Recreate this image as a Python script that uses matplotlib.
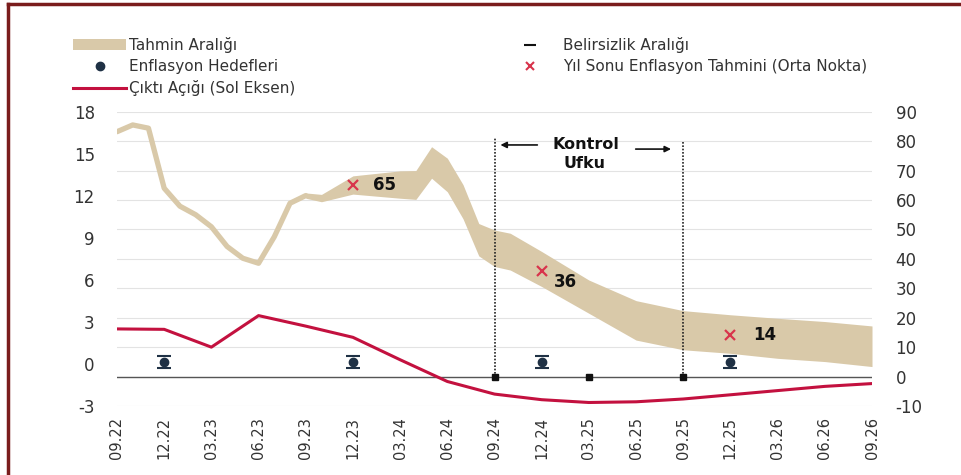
import numpy as np
import matplotlib.pyplot as plt
from matplotlib.patches import Patch
from matplotlib.lines import Line2D

plt.rcParams['font.family'] = ['DejaVu Sans']
plt.rcParams['axes.unicode_minus'] = False

# month index: 0 = 09.22 ... 48 = 09.26
tick_labels = ['09.22', '12.22', '03.23', '06.23', '09.23', '12.23', '03.24', '06.24',
               '09.24', '12.24', '03.25', '06.25', '09.25', '12.25', '03.26', '06.26', '09.26']
tick_months = list(range(0, 49, 3))

# realised inflation (right axis, %)
actual_months = list(range(0, 13))
actual = [83.2, 85.5, 84.4, 64.0, 57.9, 55.0, 50.9, 44.2, 40.2, 38.5, 47.5, 58.9, 61.5]

# forecast range (right axis, %)
band_months = [12, 13, 15, 18, 19, 20, 21, 22, 23, 24, 25, 27, 30, 33, 36, 39, 42, 45, 48]
band_low = [60.6, 59.4, 62.0, 60.6, 60.2, 67.4, 62.8, 53.6, 41.0, 37.4, 36.2, 30.6, 21.5,
            12.4, 9.1, 7.9, 6.2, 5.1, 3.4]
band_high = [62.4, 61.9, 68.2, 69.9, 70.0, 78.1, 74.2, 65.2, 52.0, 49.8, 48.7, 42.5, 32.8,
             25.8, 22.4, 21.0, 19.8, 18.7, 17.2]

# year-end mid-point forecasts
ye_months = [15, 27, 39]
ye_values = [65, 36, 14]
ye_text = ['65', '36', '14']

# inflation targets with uncertainty range
target_months = [3, 15, 27, 39]
target_values = [5, 5, 5, 5]
target_err = [2, 2, 2, 2]

# output gap (left axis)
gap_months = list(range(0, 49, 3))
gap = [2.5, 2.47, 1.2, 3.45, 2.7, 1.9, 0.3, -1.25, -2.15, -2.55, -2.75, -2.7, -2.5,
       -2.2, -1.9, -1.6, -1.4]

horizon_start, horizon_end = 24, 36
horizon_marks = [24, 30, 36]

tan = '#d9c9a9'
crimson = '#c3113f'
navy = '#1f3145'
xred = '#d8344c'
txt = '#333333'

fig = plt.figure(figsize=(9.61, 4.75), dpi=100)
ax = fig.add_axes([117/961, 1 - 406/475, (872 - 117)/961, (406 - 111.7)/475])
ax2 = ax.twinx()
ax.set_zorder(ax2.get_zorder() + 1)
ax.patch.set_visible(False)

# right axis: inflation
ax2.set_ylim(-10, 90)
ax2.set_yticks(range(-10, 91, 10))
ax2.grid(True, color='#e3e3e3', lw=0.8, zorder=0)
ax2.set_axisbelow(True)
ax2.fill_between(band_months, band_low, band_high, color=tan, lw=0, zorder=2)
ax2.plot(actual_months, actual, color=tan, lw=3.8, solid_capstyle='round', zorder=2)
ax2.axhline(0, color='#555555', lw=1, zorder=3)

ax2.errorbar(target_months, target_values, yerr=target_err, fmt='o', ms=6, color=navy,
             ecolor=navy, elinewidth=0, capsize=5, capthick=1.5, zorder=4)
ax2.plot(ye_months, ye_values, 'x', color=xred, ms=7, mew=1.6, zorder=5)
offsets = [(2.0, 0), (1.5, -4), (2.2, 0)]
for m, v, t, (dx, dy) in zip(ye_months, ye_values, ye_text, offsets):
    ax2.text(m + dx, v + dy, t, fontsize=12, fontweight='bold', color='#111111',
             va='center', ha='center', zorder=5)

ax2.vlines([horizon_start], 0, 81.5, colors='#222222', linestyles=(0, (1, 1)), lw=1.2, zorder=4)
ax2.vlines([horizon_end], 0, 79.8, colors='#222222', linestyles=(0, (1, 1)), lw=1.2, zorder=4)
ax2.plot(horizon_marks, [0] * len(horizon_marks), 's', color='#111111', ms=4, zorder=5)
ax2.text(29.8, 79.0, 'Kontrol', fontsize=11.5, fontweight='bold', color='#111111',
         ha='center', va='center', zorder=5)
ax2.text(29.7, 72.4, 'Ufku', fontsize=11.5, fontweight='bold', color='#111111',
         ha='center', va='center', zorder=5)
ax2.annotate('', xy=(24.2, 78.7), xytext=(26.9, 78.7),
             arrowprops=dict(arrowstyle='-|>', color='#111111', lw=1.2, mutation_scale=9))
ax2.annotate('', xy=(35.4, 77.3), xytext=(32.8, 77.3),
             arrowprops=dict(arrowstyle='-|>', color='#111111', lw=1.2, mutation_scale=9))

# left axis: output gap
ax.set_ylim(-3, 18)
ax.set_yticks(range(-3, 19, 3))
ax.plot(gap_months, gap, color=crimson, lw=2.2, zorder=6)

ax.set_xlim(0, 48)
ax.set_xticks(tick_months)
ax.set_xticklabels(tick_labels, rotation=90)
ax2.set_xticks(tick_months)

for a in (ax, ax2):
    for s in a.spines.values():
        s.set_visible(False)
    a.tick_params(length=0, colors=txt)
ax.tick_params(axis='y', labelsize=12, pad=16)
ax2.tick_params(axis='y', labelsize=12, pad=17)
ax.tick_params(axis='x', labelsize=10.5, pad=8)

# legends
h1 = [Patch(color=tan, lw=0),
      Line2D([], [], ls='none', marker='o', ms=6, color=navy),
      Line2D([], [], color=crimson, lw=2.2)]
l1 = ['Tahmin Aralığı', 'Enflasyon Hedefleri', 'Çıktı Açığı (Sol Eksen)']
h2 = [Line2D([], [], ls='none', marker='_', ms=8, mew=1.5, color='#111111'),
      Line2D([], [], ls='none', marker='x', ms=6, mew=1.5, color=xred)]
l2 = ['Belirsizlik Aralığı', 'Yıl Sonu Enflasyon Tahmini (Orta Nokta)']
common = dict(loc='upper left', frameon=False, fontsize=11, handlelength=3.5,
              borderpad=0, borderaxespad=0, labelspacing=0.4, labelcolor=txt)
fig.legend(h1, l1, bbox_to_anchor=(73/961, 1 - 37/475), handletextpad=0.15, **common)
fig.legend(h2, l2, bbox_to_anchor=(503/961, 1 - 37/475), handletextpad=0.4, **common)

# frame on top and left
fig.add_artist(Line2D([8/961, 1], [1 - 4/475, 1 - 4/475], transform=fig.transFigure,
                      color='#7a1c1c', lw=2.5))
fig.add_artist(Line2D([8/961, 8/961], [0, 1 - 4/475], transform=fig.transFigure,
                      color='#7a1c1c', lw=2.5))

fig.savefig('out.png', dpi=100, facecolor='white')
